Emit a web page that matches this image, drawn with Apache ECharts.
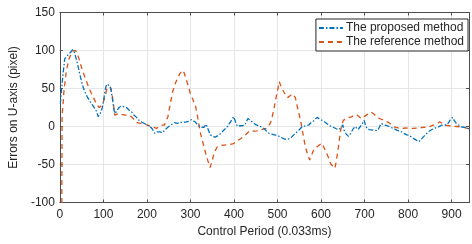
<!DOCTYPE html>
<html><head><meta charset="utf-8">
<script src="https://cdn.jsdelivr.net/npm/echarts@6/dist/echarts.min.js"></script>
<style>html,body{margin:0;padding:0;background:#fff}#c{width:472px;height:244px}</style>
</head><body><div id="c"></div>
<script>
const seriesNames = ['The proposed method', 'The reference method'];
const xTicks = [0, 100, 200, 300, 400, 500, 600, 700, 800, 900];
const yTicks = [-100, -50, 0, 50, 100, 150];

const proposedX = [1,4,7,11,15,20,25,29,33,37,41,46,52,57,63,69,75,80,84,88,92,96,100,103,106,110,113,117,121,124,127,131,136,141,147,153,158,165,170,176,182,188,194,200,207,212,218,223,229,236,242,248,255,263,270,276,282,290,297,302,306,311,315,321,326,331,336,339,342,346,351,357,363,368,372,378,384,387,392,396,399,403,408,414,420,425,429,432,438,444,451,457,464,470,476,481,487,493,499,504,508,514,519,523,528,534,541,549,557,565,572,577,582,586,591,596,600,606,613,620,628,635,642,646,650,653,658,663,667,670,674,678,682,685,689,693,696,699,702,706,711,715,722,730,734,738,741,745,752,760,768,775,782,790,797,802,808,813,819,825,829,833,838,843,849,855,862,870,877,884,889,893,896,899,902,906,911,916,922,928,933,937,940];
const proposedY = [30,50,68,89,92,95,98,101,98,90,81,68,54,46,39,33,28,24,20,13,16,22,32,45,53,56,57,50,35,22,17,21,25,27,26,25,22,19,15,12,8,6,4,2,0,-3,-9,-7,-7,-8,-4,-1,2,5,4,6,5,6,7,9,10.5,6,3,0,-1,-1,3,2,-6,-11,-13,-14,-12,-10,-8,-4,-1,2,6,10,13,7,0,1,1,2,7,10.5,8,5,2,1,-1,-3,-7,-9,-10,-11,-12,-13,-14,-16,-17,-18,-16,-13,-9,-5,0,1,2,5,7,9,12,10,9,7,4,1,-1,-3,-4,-4,2,-5,-10,-13,-10,-7,-3,0,-2,-4,-1,2,5,8,2,-3,-4,-4.5,-5,-5,-1,4,4,2,1,-1,-3,-5,-6,-9,-11,-11.5,-14,-16,-18,-20,-18,-15,-12,-9,-6,-4,-2,-0.5,1.7,2,2,5,8,10,12,8,4,2,-0.5,-1,-1.3,-2,-3];

const referenceX = [4,5,7,9,11,15,21,26,30,36,41,45,50,56,62,67,72,78,82,86,90,93,97,100,103,106,108,112,116,119,121,124,126,130,135,142,150,157,165,172,177,185,192,200,207,214,222,228,233,240,244,248,253,259,264,270,276,282,286,289,294,300,306,312,316,319,323,328,335,340,345,350,354,361,368,376,388,399,410,421,430,436,445,453,463,474,478,482,486,492,497,501,504,508,512,518,523,528,534,538,541,547,553,558,564,569,574,578,583,588,592,597,602,607,613,618,622,627,632,636,639,642,645,648,651,659,665,670,676,681,687,693,699,704,710,715,722,728,734,745,756,768,783,795,810,822,832,847,858,866,873,879,885,895,903,912,922,930,940];
const referenceY = [-160,15,28,45,55,74,89,96,99.5,100,94,87,77,67,58,50,44,37,32,28,25,24,28,33,38,45,50,52,52,45,38,25,15,16,17,16,15,15,12.6,8,5,4,4,2,0.5,-1,-2.6,0,1.7,2,1.7,12.6,28,45.5,55,63,70,74,70,64,55,43,35,26,14,4,-9,-20,-35.5,-45,-54,-45,-35.5,-27,-25,-24.6,-24,-22.4,-18,-13.7,-9,-5.7,-6,-5.7,-4,-2.6,-5,3,8,24,39,50,59,53,48,42,38,40,43,41,38,22,8,-8,-27,-36,-44,-38,-31,-28,-27,-24,-22,-28,-35.5,-42,-49,-52,-55,-42,-31,-18,-5,2,8,10.5,12,12.6,15,16,13,10.5,13,15,17,19,16,13,10.5,8,5,-0.5,-2.6,-2,-2.6,-2,-1.3,-0.5,1.7,4,6,4,1.7,1,0.4,0,-0.5,-1.5,-3];

const pair = (xs, ys) => xs.map((x, i) => [x, ys[i]]);
const FONT = 'Helvetica, Arial, "Liberation Sans", sans-serif';
const AX = '#4d4d4d';
const TXT = '#262626';

const chart = echarts.init(document.getElementById('c'), null, {renderer: 'canvas'});
const xBase = {
  type: 'value', min: 0, max: 940, interval: 100,
  axisLine: {show: true, onZero: false, lineStyle: {color: AX, width: 1}},
  axisTick: {show: true, inside: true, length: 3, lineStyle: {color: AX}},
};
const yBase = {
  type: 'value', min: -100, max: 150, interval: 50,
  axisLine: {show: true, onZero: false, lineStyle: {color: AX, width: 1}},
  axisTick: {show: true, inside: true, length: 3, lineStyle: {color: AX}},
};
chart.setOption({
  animation: false,
  backgroundColor: '#fff',
  grid: {left: 53.5, right: 1.5, top: 12.5, bottom: 41.5, show: false},
  legend: {
    data: seriesNames,
    orient: 'vertical',
    right: 4, top: 19,
    backgroundColor: '#fff',
    borderColor: '#262626', borderWidth: 1,
    padding: [3, 4, 3, 2],
    itemGap: 2,
    itemWidth: 24, itemHeight: 8,
    itemStyle: {opacity: 0},
    textStyle: {fontFamily: FONT, fontSize: 12, color: TXT, padding: [0, 0, 0, -2]}
  },
  xAxis: [
    Object.assign({}, xBase, {
      position: 'bottom',
      name: 'Control Period (0.033ms)', nameLocation: 'middle', nameGap: 23,
      nameTextStyle: {fontFamily: FONT, fontSize: 12, color: TXT},
      axisLabel: {fontFamily: FONT, fontSize: 12, color: TXT, margin: 6,
        formatter: v => (v % 100 === 0 ? String(v) : '')},
      splitLine: {show: true, lineStyle: {color: '#e6e6e6', width: 1}}
    }),
    Object.assign({}, xBase, {position: 'top', axisLabel: {show: false}, splitLine: {show: false}})
  ],
  yAxis: [
    Object.assign({}, yBase, {
      position: 'left',
      name: 'Errors on U-axis (pixel)', nameLocation: 'middle', nameGap: 34,
      nameTextStyle: {fontFamily: FONT, fontSize: 12, color: TXT},
      axisLabel: {fontFamily: FONT, fontSize: 12, color: TXT, margin: 5},
      splitLine: {show: true, lineStyle: {color: '#e6e6e6', width: 1}}
    }),
    Object.assign({}, yBase, {position: 'right', axisLabel: {show: false}, splitLine: {show: false}})
  ],
  series: [
    {
      name: seriesNames[0], type: 'line', xAxisIndex: 0, yAxisIndex: 0,
      data: pair(proposedX, proposedY),
      symbol: 'none', showSymbol: false, clip: true, z: 3,
      lineStyle: {color: '#0072BD', width: 1.3, type: [5, 2, 1.5, 2]},
      itemStyle: {color: '#0072BD'}
    },
    {
      name: seriesNames[1], type: 'line', xAxisIndex: 0, yAxisIndex: 0,
      data: pair(referenceX, referenceY),
      symbol: 'none', showSymbol: false, clip: true, z: 2,
      lineStyle: {color: '#D95319', width: 1.3, type: [5, 4]},
      itemStyle: {color: '#D95319'}
    }
  ]
});
</script>
</body></html>
